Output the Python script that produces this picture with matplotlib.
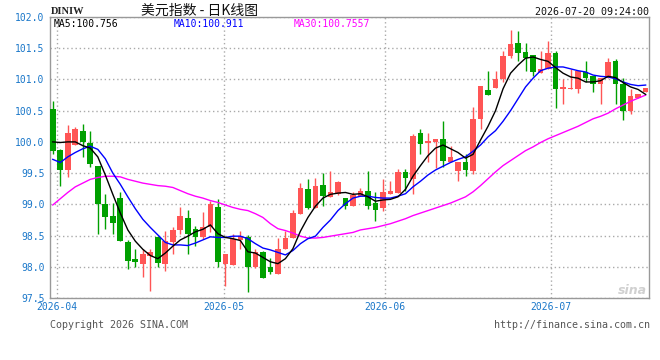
import matplotlib
matplotlib.use("Agg")
import matplotlib.pyplot as plt
import numpy as np

# ---------------------------------------------------------------------------
# Data
# ---------------------------------------------------------------------------

opens = [
    100.52, 99.87, 99.55, 99.95, 100.18, 99.99, 99.61, 99.01, 98.81, 99.10,
    98.40, 98.12, 98.05, 98.18, 98.47, 98.04, 98.39, 98.59, 98.78, 98.61,
    98.47, 98.63, 98.95, 98.04, 98.03, 98.43, 98.48, 97.99, 98.23, 98.00,
    97.89, 98.29, 98.46, 98.85, 99.25, 98.94, 99.31, 99.11, 99.17, 99.10,
    98.97, 99.13, 99.22, 99.02, 98.94, 99.17, 99.18, 99.52, 99.41, 100.14,
    99.99, 100.00, 100.04, 99.68, 99.53, 99.67, 99.53, 100.36, 100.83, 100.87,
    101.00, 101.37, 101.58, 101.44, 101.39, 101.11, 101.16, 101.43, 100.84, 100.85,
    100.84, 101.12, 101.06, 100.92, 101.02, 101.30, 100.93, 100.49, 100.70, 100.80,
]
highs = [
    100.65, 99.89, 100.27, 100.24, 100.29, 100.17, 99.61, 99.17, 99.02, 99.19,
    98.43, 98.29, 98.29, 98.29, 98.50, 98.58, 98.64, 98.95, 98.91, 98.65,
    98.88, 99.06, 99.09, 98.21, 98.53, 98.58, 98.51, 98.29, 98.26, 98.14,
    98.46, 98.58, 98.91, 99.34, 99.41, 99.42, 99.50, 99.53, 99.37, 99.10,
    99.20, 99.26, 99.53, 99.20, 99.40, 99.37, 99.57, 99.57, 100.12, 100.21,
    100.14, 100.05, 100.33, 99.93, 99.68, 99.80, 100.56, 100.90, 101.14, 101.13,
    101.45, 101.79, 101.77, 101.58, 101.39, 101.45, 101.61, 101.45, 101.01, 101.17,
    101.13, 101.29, 101.06, 101.02, 101.34, 101.33, 101.02, 100.84, 100.77, 100.86,
]
lows = [
    99.80, 99.29, 99.44, 99.95, 99.76, 99.59, 98.52, 98.61, 98.53, 98.41,
    97.96, 98.00, 97.84, 97.62, 98.00, 97.94, 98.20, 98.52, 98.21, 98.34,
    98.44, 98.56, 98.00, 97.70, 98.03, 98.29, 97.60, 97.98, 97.82, 97.89,
    97.89, 98.29, 98.46, 98.85, 98.93, 98.94, 98.97, 99.11, 99.15, 98.93,
    98.97, 99.13, 98.93, 98.74, 98.90, 99.17, 99.18, 99.21, 99.16, 99.81,
    99.68, 99.58, 99.59, 99.68, 99.37, 99.45, 99.48, 100.21, 100.75, 100.87,
    100.96, 101.35, 101.30, 101.14, 101.06, 101.11, 101.16, 100.55, 100.60, 100.85,
    100.79, 100.96, 100.80, 100.61, 101.02, 100.61, 100.35, 100.44, 100.70, 100.80,
]
closes = [
    99.85, 99.55, 100.14, 100.20, 100.00, 99.64, 99.00, 98.79, 98.70, 98.41,
    98.10, 98.07, 98.21, 98.23, 98.06, 98.42, 98.59, 98.81, 98.52, 98.47,
    98.63, 99.00, 98.08, 98.21, 98.44, 98.49, 97.99, 98.23, 97.82, 97.91,
    98.29, 98.46, 98.86, 99.26, 98.94, 99.30, 99.13, 99.19, 99.35, 98.98,
    99.15, 99.21, 98.98, 98.91, 99.19, 99.22, 99.52, 99.42, 100.09, 99.97,
    100.01, 100.05, 99.69, 99.75, 99.68, 99.55, 100.37, 100.90, 100.75, 101.00,
    101.37, 101.57, 101.42, 101.35, 101.12, 101.17, 101.43, 100.85, 100.88, 100.86,
    101.13, 101.03, 100.93, 101.02, 101.28, 100.93, 100.50, 100.73, 100.77, 100.86,
]

ma5 = [
    100.00, 99.99, 100.00, 100.00, 99.94, 99.90, 99.76, 99.47, 99.16, 98.86,
    98.59, 98.41, 98.28, 98.18, 98.13, 98.22, 98.33, 98.43, 98.49, 98.56,
    98.60, 98.67, 98.53, 98.47, 98.45, 98.42, 98.24, 98.22, 98.15, 98.08,
    98.05, 98.13, 98.29, 98.57, 98.79, 98.97, 99.10, 99.16, 99.18, 99.19,
    99.16, 99.17, 99.12, 99.05, 99.07, 99.08, 99.12, 99.24, 99.45, 99.62,
    99.78, 99.90, 99.95, 99.89, 99.83, 99.74, 99.80, 100.03, 100.25, 100.50,
    100.85, 101.10, 101.23, 101.34, 101.36, 101.32, 101.29, 101.19, 101.10, 101.04,
    101.02, 100.96, 100.96, 100.98, 101.05, 101.03, 100.95, 100.88, 100.84, 100.76,
]
ma10 = [
    99.72, 99.67, 99.76, 99.83, 99.89, 99.93, 99.88, 99.73, 99.50, 99.32,
    99.12, 98.93, 98.76, 98.63, 98.51, 98.39, 98.35, 98.35, 98.34, 98.38,
    98.43, 98.48, 98.47, 98.47, 98.49, 98.49, 98.45, 98.37, 98.30, 98.27,
    98.23, 98.19, 98.26, 98.37, 98.45, 98.49, 98.63, 98.75, 98.90, 99.01,
    99.10, 99.13, 99.13, 99.11, 99.10, 99.10, 99.13, 99.17, 99.28, 99.37,
    99.47, 99.55, 99.61, 99.67, 99.72, 99.76, 99.85, 99.95, 100.08, 100.18,
    100.33, 100.50, 100.69, 100.88, 101.02, 101.14, 101.18, 101.20, 101.20, 101.17,
    101.14, 101.12, 101.07, 101.05, 101.04, 101.01, 100.96, 100.92, 100.90, 100.91,
]
ma30 = [
    98.99, 99.09, 99.19, 99.28, 99.34, 99.40, 99.43, 99.45, 99.45, 99.44,
    99.40, 99.37, 99.34, 99.32, 99.30, 99.29, 99.27, 99.22, 99.17, 99.13,
    99.10, 99.06, 99.03, 98.99, 98.95, 98.92, 98.90, 98.85, 98.79, 98.69,
    98.61, 98.58, 98.54, 98.49, 98.46, 98.46, 98.47, 98.49, 98.51, 98.53,
    98.55, 98.59, 98.61, 98.63, 98.66, 98.69, 98.73, 98.77, 98.82, 98.86,
    98.90, 98.94, 98.98, 99.02, 99.07, 99.12, 99.20, 99.30, 99.41, 99.52,
    99.62, 99.70, 99.78, 99.86, 99.92, 99.99, 100.05, 100.10, 100.15, 100.20,
    100.25, 100.31, 100.37, 100.41, 100.46, 100.53, 100.59, 100.65, 100.70, 100.75,
]

month_labels = ["2026-04", "2026-05", "2026-06", "2026-07"]
month_pos = [0.55, 22.8, 44.25, 66.4]

ma_labels = ["MA5:100.756", "MA10:100.911", "MA30:100.7557"]

# ---------------------------------------------------------------------------
# Styling
# ---------------------------------------------------------------------------

UP = "#ff5555"
DOWN = "#00a000"
AXIS_BLUE = "#1a77c9"
GRID = "#aaaaaa"
MONO = "DejaVu Sans Mono"
W, H = 660, 360


def px(x, y):
    """pixel coords (top-left origin) -> figure fraction"""
    return x / W, 1 - y / H


fig = plt.figure(figsize=(6.6, 3.6), dpi=100)
fig.patch.set_facecolor("white")
ax = fig.add_axes([50 / W, 1 - 298 / H, 599 / W, 281 / H])

x = np.arange(len(closes))
o = np.array(opens)
c = np.array(closes)
up = c >= o
colors = np.where(up, UP, DOWN)

# wicks then bodies
ax.vlines(x, lows, highs, colors=colors, linewidth=1.0, zorder=2)
body = np.where(np.abs(c - o) < 0.012, 0.012, c - o)
ax.bar(x, body, bottom=o, width=0.76, color=colors, linewidth=0, zorder=3)

# moving averages
ax.plot(x, ma30, color="#ff00ff", linewidth=1.0, zorder=4)
ax.plot(x, ma10, color="#0000ff", linewidth=1.0, zorder=4)
ax.plot(x, ma5, color="#000000", linewidth=1.0, zorder=4)

ax.set_xlim(-0.37, 79.45)
ax.set_ylim(97.5, 102.0)
yt = np.arange(97.5, 102.01, 0.5)
ax.set_yticks(yt)
ax.set_yticklabels([f"{v:.1f}" for v in yt], fontsize=7, color=AXIS_BLUE, family=MONO)
ax.set_xticks(month_pos)
ax.set_xticklabels(month_labels, fontsize=7, color=AXIS_BLUE, family=MONO)
ax.tick_params(length=0, pad=3)
ax.tick_params(axis="y", pad=4)
ax.grid(True, color=GRID, linestyle=(0, (1, 2)), linewidth=1.0, zorder=0)
for s in ax.spines.values():
    s.set_color("#999999")
    s.set_linewidth(1.0)

# header texts
fig.text(*px(51, 12), "DINIW", fontsize=7.5, fontweight="bold", family="Liberation Serif",
         color="#222222", va="center")
fig.text(*px(200, 11), "美元指数 - 日K线图", fontsize=10, ha="center", va="center",
         family=["Noto Sans CJK SC", "DejaVu Sans"], color="#111111")
fig.text(*px(649, 12), "2026-07-20 09:24:00", fontsize=7.2, ha="right", va="center",
         family=MONO, color="#111111")

# MA legend inside the plot
for label, xpos, col in zip(ma_labels, [54, 174, 294], ["#000000", "#0000ff", "#ff00ff"]):
    fig.text(*px(xpos, 24), label, fontsize=7, family=MONO, color=col, va="center")

# footer
fig.text(*px(50, 325), "Copyright 2026 SINA.COM", fontsize=7.2, family=MONO,
         color="#555555", va="center")
fig.text(*px(650, 325), "http://finance.sina.com.cn", fontsize=7.2, family=MONO,
         color="#555555", va="center", ha="right")

# watermark
fig.text(*px(647, 290), "sina", fontsize=9, style="italic", fontweight="bold",
         color="#d0d0d0", ha="right", va="center", zorder=1)

fig.savefig("out.png", dpi=100, facecolor="white")
